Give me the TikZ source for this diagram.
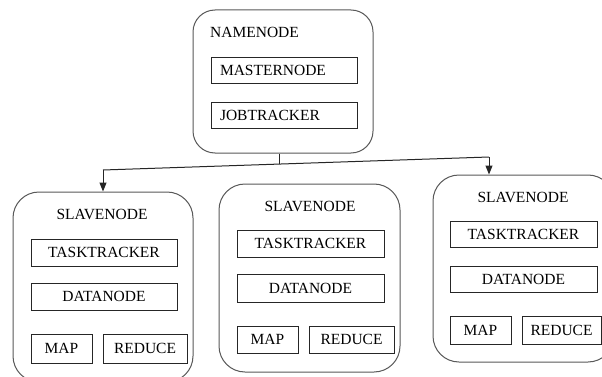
\documentclass[tikz,border=0pt]{standalone}
\usepackage{fontspec}
\setmainfont{Liberation Serif}
\usetikzlibrary{arrows.meta}
\tikzset{
  group/.style={draw=black!65, line width=1pt, rounded corners=26pt, inner sep=0pt},
  unit/.style={draw=black!85, line width=0.9pt, inner sep=0pt, font=\fontsize{15.5}{18}\selectfont},
  title/.style={inner sep=0pt, font=\fontsize{15.5}{18}\selectfont},
  link/.style={draw=black!85, line width=1pt},
  arr/.style={link, -{Triangle[length=9pt,width=7pt]}}
}
% place a box by its corners: \unitbox{name}{x1}{y1}{x2}{y2}{options}{text}
\newcommand\unitbox[7]{%
  \node[#6, minimum width={#4-#2}, minimum height={#5-#3}] (#1) at ({(#2+#4)/2},{(#3+#5)/2}) {#7};}
\begin{document}
\begin{tikzpicture}[x=1pt,y=-1pt]
\clip (0,0) rectangle (602,377);
\fill[white] (0,0) rectangle (602,377);

% name node with its two services
\unitbox{nn}{193}{10}{373}{153}{group, rounded corners=22pt}{}
\node[title, anchor=west] (nntitle) at (210,32) {NAMENODE};
\unitbox{master}{211}{57}{357}{83}{unit, text width=128pt, align=left}{MASTERNODE}
\unitbox{jobt}{211}{102}{357}{128}{unit, text width=128pt, align=left}{JOBTRACKER}

% slave node 1
\unitbox{s1}{13}{192}{193}{382}{group}{}
\node[title] (s1title) at (102,214) {SLAVENODE};
\unitbox{s1task}{31}{239}{177}{266}{unit}{TASKTRACKER}
\unitbox{s1data}{31}{283}{177}{310}{unit}{DATANODE}
\unitbox{s1map}{31}{334}{92}{363}{unit}{MAP}
\unitbox{s1red}{103}{334}{187}{363}{unit}{REDUCE}

% slave node 2
\unitbox{s2}{219}{184}{400}{372}{group}{}
\node[title] (s2title) at (310,206) {SLAVENODE};
\unitbox{s2task}{237}{230}{384}{257}{unit}{TASKTRACKER}
\unitbox{s2data}{237}{274}{384}{302}{unit}{DATANODE}
\unitbox{s2map}{237}{326}{298}{353}{unit}{MAP}
\unitbox{s2red}{309}{326}{394}{353}{unit}{REDUCE}

% slave node 3
\unitbox{s3}{433}{175}{614}{362}{group}{}
\node[title] (s3title) at (523,197) {SLAVENODE};
\unitbox{s3task}{450}{221}{597}{247}{unit}{TASKTRACKER}
\unitbox{s3data}{450}{266}{597}{292}{unit}{DATANODE}
\unitbox{s3map}{450}{316}{511}{344}{unit}{MAP}
\unitbox{s3red}{522}{316}{601}{344}{unit}{REDUCE}

% connectors from the name node to the slaves
\coordinate (jL) at (103,170);
\coordinate (jR) at (489,157);
\coordinate (jM) at (279,164);
\draw[link] (jM |- nn.south) -- (jM);
\draw[link] (jL) -- (jR);
\draw[arr] (jL) -- (jL |- s1.north);
\draw[arr] (jR) -- (jR |- s3.north);
\end{tikzpicture}
\end{document}
